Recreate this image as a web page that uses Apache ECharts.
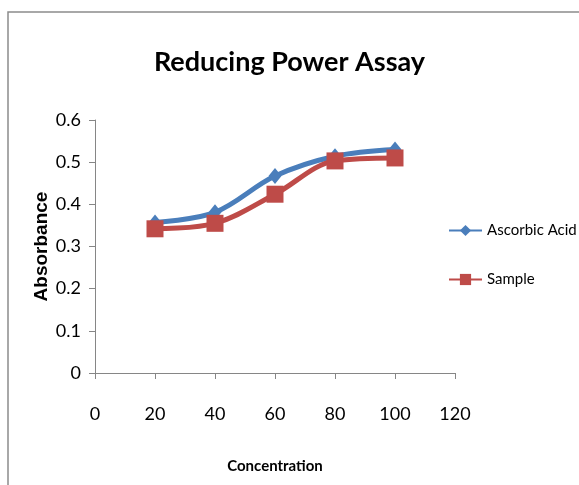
<!DOCTYPE html>
<html><head><meta charset="utf-8">
<script src="https://cdn.jsdelivr.net/npm/echarts@6/dist/echarts.min.js"></script>
<style>html,body{margin:0;padding:0;background:#fff}#c{width:579px;height:485px}</style>
</head><body><div id="c"></div>
<script>
const concentration = [20, 40, 60, 80, 100];
const ascorbicAcid = [0.357, 0.381, 0.467, 0.514, 0.530];
const sample = [0.342, 0.355, 0.424, 0.503, 0.510];
const xTicks = [0, 20, 40, 60, 80, 100, 120];
const yTicks = [0, 0.1, 0.2, 0.3, 0.4, 0.5, 0.6];

const narrow = 'Lato, sans-serif';
const chart = echarts.init(document.getElementById('c'));
chart.setOption({
  animation: false,
  backgroundColor: '#fff',
  graphic: [{
    type: 'rect',
    shape: { x: 8, y: 12, width: 600, height: 500 },
    style: { fill: 'none', stroke: '#8c8c8c', lineWidth: 1.5 }
  }],
  title: {
    text: 'Reducing Power Assay', left: 'center', top: 44,
    textStyle: { fontFamily: narrow, fontSize: 27, fontWeight: 'bold', color: '#000' }
  },
  legend: {
    orient: 'vertical', left: 448, top: 223, itemGap: 34, padding: 0,
    itemWidth: 33, itemHeight: 14,
    textStyle: { fontFamily: narrow, fontSize: 15, color: '#000' },
    data: ['Ascorbic Acid', 'Sample']
  },
  grid: { left: 95, top: 120, right: 124, bottom: 112 },
  xAxis: {
    type: 'value', min: 0, max: 120, interval: 20,
    name: 'Concentration', nameLocation: 'middle', nameGap: 86, nameMoveOverlap: false,
    nameTextStyle: { fontFamily: narrow, fontSize: 15, fontWeight: 'bold', color: '#000' },
    axisLine: { lineStyle: { color: '#868686' } },
    axisTick: { show: true, length: 6, lineStyle: { color: '#868686' } },
    axisLabel: { margin: 32, fontFamily: narrow, fontSize: 18, color: '#000',
      formatter: v => xTicks.includes(v) ? String(v) : '' },
    splitLine: { show: false }
  },
  yAxis: {
    type: 'value', min: 0, max: 0.6, interval: 0.1,
    name: 'Absorbance', nameLocation: 'middle', nameGap: 44, nameMoveOverlap: false,
    nameTextStyle: { fontFamily: '"Liberation Sans", Arial, sans-serif', fontSize: 19, fontWeight: 'bold', color: '#000' },
    axisLine: { show: true, lineStyle: { color: '#868686' } },
    axisTick: { show: true, length: 6, lineStyle: { color: '#868686' } },
    axisLabel: { margin: 14, fontFamily: narrow, fontSize: 18, color: '#000',
      formatter: v => { const t = yTicks.find(y => Math.abs(y - v) < 1e-9); return t === undefined ? '' : String(t); } },
    splitLine: { show: false }
  },
  series: [{
    name: 'Ascorbic Acid', type: 'line', smooth: 0.35,
    data: concentration.map((c, i) => [c, ascorbicAcid[i]]),
    symbol: 'diamond', symbolSize: [13, 16],
    lineStyle: { width: 5, color: '#4a7ebb' },
    itemStyle: { color: '#4a7ebb' }
  }, {
    name: 'Sample', type: 'line', smooth: 0.35,
    data: concentration.map((c, i) => [c, sample[i]]),
    symbol: 'rect', symbolSize: 17,
    lineStyle: { width: 5, color: '#be4b48' },
    itemStyle: { color: '#be4b48' }
  }]
});
</script></body></html>
